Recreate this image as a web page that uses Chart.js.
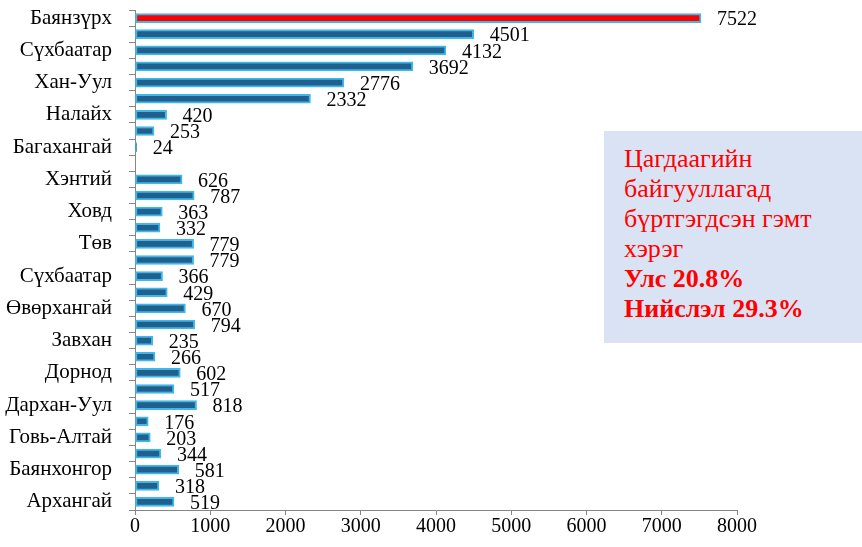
<!DOCTYPE html>
<html>
<head>
<meta charset="utf-8">
<script src="https://cdn.jsdelivr.net/npm/chart.js@4/dist/chart.umd.min.js"></script>
<style>
  html, body { margin: 0; padding: 0; background: #fff; }
  #wrap { position: relative; width: 862px; height: 547px; }
  #note {
    position: absolute; left: 604px; top: 131px; width: 258px; height: 212px;
    box-sizing: border-box; padding: 13px 0 0 20px;
    background: #dae3f3; color: #ff0000;
    font-family: "Liberation Serif", "Times New Roman", serif; font-size: 26px; line-height: 30px;
  }
  #note b { display: block; font-size: 26px; }
</style>
</head>
<body>
<div id="wrap">
  <canvas id="chart" width="862" height="547"></canvas>
  <div id="note">Цагдаагийн<br>байгууллагад<br>бүртгэгдсэн гэмт<br>хэрэг<b>Улс 20.8%</b><b>Нийслэл 29.3%</b></div>
</div>
<script>
"use strict"

// districts of the capital, an empty row, then the aimags
var regions = ["Баянзүрх", "Сонгинохайрхан", "Сүхбаатар", "Чингэлтэй", "Хан-Уул", "Баянгол",
    "Налайх", "Багануур", "Багахангай", "",
    "Хэнтий", "Хөвсгөл", "Ховд", "Увс", "Төв", "Сэлэнгэ", "Сүхбаатар ", "Өмнөговь",
    "Өвөрхангай", "Орхон", "Завхан", "Дундговь", "Дорнод", "Дорноговь", "Дархан-Уул",
    "Говьсүмбэр", "Говь-Алтай", "Булган", "Баянхонгор", "Баян-Өлгий", "Архангай"]
var crimes = [7522, 4501, 4132, 3692, 2776, 2332, 420, 253, 24, null,
    626, 787, 363, 332, 779, 779, 366, 429, 670, 794, 235, 266, 602, 517, 818,
    176, 203, 344, 581, 318, 519]
var xTicks = [0, 1000, 2000, 3000, 4000, 5000, 6000, 7000, 8000]

var serif = "'Liberation Serif', 'Times New Roman', serif"

// number written right of every bar
var valueLabels = {
    id: "valueLabels",
    afterDatasetsDraw(chart) {
        let ctx = chart.ctx
        let meta = chart.getDatasetMeta(0)
        ctx.save()
        ctx.font = "20px " + serif
        ctx.fillStyle = "#000"
        ctx.textBaseline = "middle"
        meta.data.forEach(function (bar, i) {
            if (crimes[i] == null) return
            ctx.fillText(String(crimes[i]), bar.x + 16, bar.y + 2)
        })
        ctx.restore()
    }
}

new Chart(document.getElementById("chart"), {
    type: "bar",
    data: {
        labels: regions,
        datasets: [{
            data: crimes,
            backgroundColor: crimes.map((v, i) => i === 0 ? "#ff0000" : "#215f8f"),
            borderColor: "#3fb8e8",
            borderWidth: 2,
            borderSkipped: false,
            barThickness: 9
        }]
    },
    options: {
        indexAxis: "y",
        responsive: false,
        animation: false,
        layout: { padding: { top: 10, right: 125, left: 0, bottom: 0 } },
        plugins: { legend: { display: false }, tooltip: { enabled: false } },
        scales: {
            x: {
                min: 0, max: 8000,
                afterBuildTicks: (s) => { s.ticks = xTicks.map(v => ({ value: v })) },
                afterFit: (s) => { s.height = 37; s.paddingLeft = 0; s.paddingRight = 0 },
                border: { color: "#868686", width: 1 },
                grid: { drawOnChartArea: false, tickLength: 5, color: "#868686" },
                ticks: {
                    color: "#000", font: { family: serif, size: 20 }, padding: 0,
                    callback: (v) => String(v)
                }
            },
            y: {
                afterFit: (s) => { s.width = 135; s.paddingTop = 0; s.paddingBottom = 0 },
                border: { color: "#868686", width: 1 },
                grid: { drawOnChartArea: false, tickLength: 6, color: "#868686", offset: true },
                ticks: {
                    autoSkip: false,
                    color: "#000",
                    font: { family: serif, size: 21 },
                    padding: 17,
                    callback: function (v, i) { return i % 2 === 0 ? regions[i].trim() : "" }
                }
            }
        }
    },
    plugins: [valueLabels]
})
</script>
</body>
</html>
